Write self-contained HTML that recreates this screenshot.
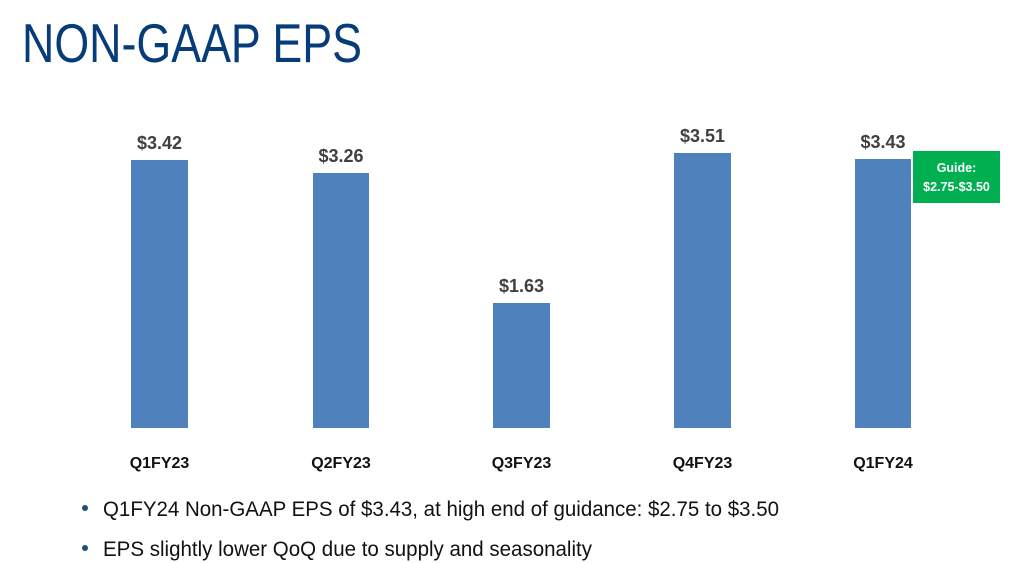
<!DOCTYPE html>
<html><head><style>
html,body{margin:0;padding:0;background:#fff;}
svg{display:block;}
</style></head><body>
<svg width="1024" height="563" viewBox="0 0 1024 563" xmlns="http://www.w3.org/2000/svg" font-family="Liberation Sans, sans-serif">
<rect width="1024" height="563" fill="#fff"/>
<text x="22" y="62" font-size="55" fill="#063d78" textLength="340" lengthAdjust="spacingAndGlyphs">NON-GAAP EPS</text>
<g fill="#4f81bd">
<rect x="131" y="160" width="57" height="268"/>
<rect x="313" y="173" width="56" height="255"/>
<rect x="493" y="303" width="57" height="125"/>
<rect x="674" y="153" width="57" height="275"/>
<rect x="855" y="159" width="56" height="269"/>
</g>
<g font-size="18" font-weight="bold" fill="#404040" text-anchor="middle">
<text x="159.5" y="149">$3.42</text>
<text x="341" y="162">$3.26</text>
<text x="521.5" y="292">$1.63</text>
<text x="702.5" y="142">$3.51</text>
<text x="883" y="148">$3.43</text>
</g>
<g font-size="16" font-weight="bold" fill="#111" text-anchor="middle">
<text x="159.5" y="468">Q1FY23</text>
<text x="341" y="468">Q2FY23</text>
<text x="521.5" y="468">Q3FY23</text>
<text x="702.5" y="468">Q4FY23</text>
<text x="883" y="468">Q1FY24</text>
</g>
<rect x="913" y="151" width="87" height="52" fill="#00b050"/>
<g font-size="12.5" font-weight="bold" fill="#fff" text-anchor="middle">
<text x="956.5" y="172">Guide:</text>
<text x="956.5" y="191">$2.75-$3.50</text>
</g>
<circle cx="85" cy="508" r="3" fill="#1f4e79"/>
<circle cx="85" cy="548" r="3" fill="#1f4e79"/>
<g font-size="21" fill="#111">
<text x="103" y="516" textLength="676" lengthAdjust="spacingAndGlyphs">Q1FY24 Non-GAAP EPS of $3.43, at high end of guidance: $2.75 to $3.50</text>
<text x="103" y="556" textLength="489" lengthAdjust="spacingAndGlyphs">EPS slightly lower QoQ due to supply and seasonality</text>
</g>
</svg>
</body></html>
